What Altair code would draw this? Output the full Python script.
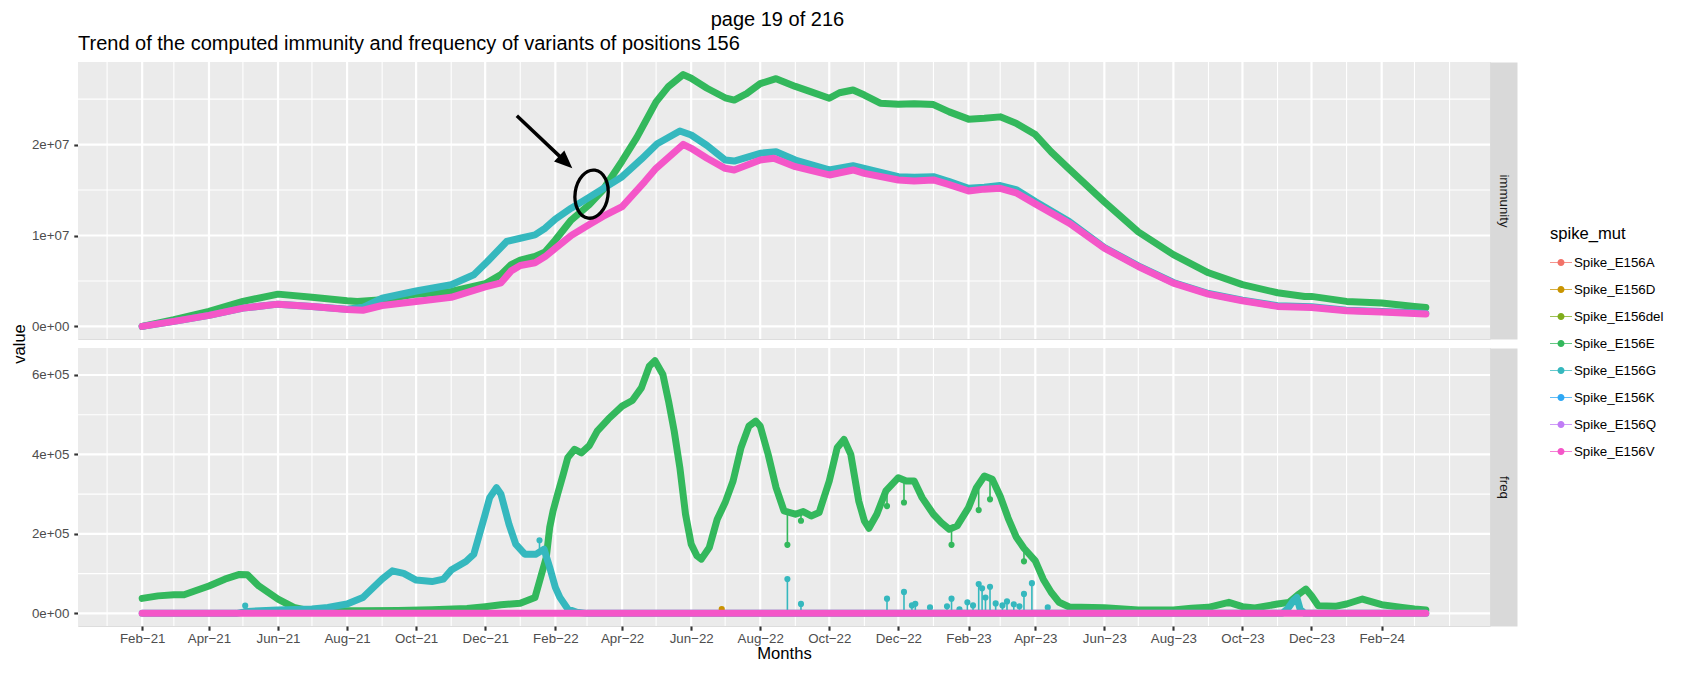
import altair as alt
import pandas as pd

FONT = "Liberation Sans"

# ---------------- categories / colours ----------------
series_names = ["Spike_E156A", "Spike_E156D", "Spike_E156del", "Spike_E156E",
                "Spike_E156G", "Spike_E156K", "Spike_E156Q", "Spike_E156V"]
series_colors = ["#F27268", "#C99400", "#7FAD1C", "#33B85C",
                 "#35B8BE", "#2EA8F5", "#C07CF6", "#F456C8"]
facet_labels = ["immunity", "freq"]
page_title = "page 19 of 216"
plot_title = "Trend of the computed immunity and frequency of variants of positions 156"

# ---------------- immunity panel (values in units of 1e7) ----------------
IMM_UNIT = 1e7
imm_E_dates = ["2021-02-01", "2021-03-01", "2021-04-01", "2021-05-01", "2021-06-01", "2021-07-01",
               "2021-08-01", "2021-08-10", "2021-09-01", "2021-10-01", "2021-11-01", "2021-12-01",
               "2021-12-15", "2021-12-24", "2022-01-01", "2022-01-14", "2022-01-23", "2022-02-01",
               "2022-02-15", "2022-03-03", "2022-03-15", "2022-04-01", "2022-04-14", "2022-05-01",
               "2022-05-12", "2022-05-25", "2022-06-01", "2022-06-15", "2022-07-01", "2022-07-09",
               "2022-07-20", "2022-08-01", "2022-08-15", "2022-09-01", "2022-09-15", "2022-10-01",
               "2022-10-10", "2022-10-22", "2022-11-01", "2022-11-15", "2022-12-01", "2022-12-15",
               "2023-01-01", "2023-01-15", "2023-02-01", "2023-02-15", "2023-03-01", "2023-03-15",
               "2023-04-01", "2023-04-15", "2023-05-01", "2023-06-01", "2023-07-01", "2023-08-01",
               "2023-09-01", "2023-10-01", "2023-11-01", "2023-11-25", "2023-12-01", "2024-01-01",
               "2024-02-01", "2024-03-01", "2024-03-11"]
imm_E_vals = [0.0, 0.073, 0.165, 0.275, 0.355, 0.32,
              0.282, 0.275, 0.293, 0.355, 0.385, 0.47,
              0.57, 0.68, 0.73, 0.77, 0.82, 0.95,
              1.17, 1.34, 1.50, 1.82, 2.08, 2.47,
              2.64, 2.77, 2.73, 2.62, 2.515, 2.49,
              2.56, 2.67, 2.725, 2.64, 2.58, 2.51,
              2.57, 2.60, 2.545, 2.455, 2.445, 2.45,
              2.44, 2.36, 2.28, 2.29, 2.305, 2.235,
              2.11, 1.92, 1.73, 1.37, 1.04, 0.79,
              0.59, 0.46, 0.37, 0.33, 0.33, 0.275,
              0.257, 0.22, 0.209]

imm_G_dates = ["2021-02-01", "2021-03-01", "2021-04-01", "2021-05-01", "2021-06-01", "2021-07-01",
               "2021-08-01", "2021-08-15", "2021-09-01", "2021-10-01", "2021-11-01", "2021-11-21",
               "2021-12-03", "2021-12-20", "2022-01-01", "2022-01-14", "2022-01-23", "2022-02-01",
               "2022-02-15", "2022-03-03", "2022-04-01", "2022-04-18", "2022-05-02", "2022-05-22",
               "2022-06-01", "2022-06-15", "2022-07-01", "2022-07-09", "2022-08-01", "2022-08-15",
               "2022-09-01", "2022-10-01", "2022-10-22", "2022-11-01", "2022-12-01", "2022-12-15",
               "2023-01-01", "2023-01-15", "2023-02-01", "2023-02-15", "2023-03-01", "2023-03-15",
               "2023-04-01", "2023-05-01", "2023-06-01", "2023-07-01", "2023-08-01", "2023-09-01",
               "2023-10-01", "2023-11-01", "2023-12-01", "2024-01-01", "2024-02-01", "2024-03-01",
               "2024-03-11"]
imm_G_vals = [0.0, 0.055, 0.121, 0.201, 0.245, 0.22,
              0.19, 0.21, 0.31, 0.39, 0.458, 0.568,
              0.714, 0.934, 0.97, 1.007, 1.08, 1.18,
              1.30, 1.42, 1.647, 1.84, 2.01, 2.149,
              2.105, 1.99, 1.83, 1.819, 1.904, 1.922,
              1.83, 1.721, 1.768, 1.739, 1.647, 1.64,
              1.647, 1.593, 1.519, 1.53, 1.549, 1.505,
              1.373, 1.153, 0.868, 0.666, 0.483, 0.362,
              0.289, 0.227, 0.216, 0.179, 0.165, 0.15,
              0.143]

imm_V_dates = ["2021-02-01", "2021-03-01", "2021-04-01", "2021-05-01", "2021-06-01", "2021-07-01",
               "2021-08-01", "2021-08-15", "2021-09-01", "2021-10-01", "2021-11-01", "2021-12-01",
               "2021-12-15", "2021-12-24", "2022-01-01", "2022-01-14", "2022-01-23", "2022-02-01",
               "2022-02-15", "2022-03-03", "2022-03-15", "2022-04-01", "2022-04-21", "2022-05-01",
               "2022-05-25", "2022-06-01", "2022-06-15", "2022-07-01", "2022-07-09", "2022-08-01",
               "2022-08-13", "2022-09-01", "2022-10-01", "2022-10-22", "2022-11-01", "2022-12-01",
               "2022-12-15", "2023-01-01", "2023-01-15", "2023-02-01", "2023-02-15", "2023-03-01",
               "2023-03-15", "2023-04-01", "2023-05-01", "2023-06-01", "2023-07-01", "2023-08-01",
               "2023-09-01", "2023-10-01", "2023-11-01", "2023-12-01", "2024-01-01", "2024-02-01",
               "2024-03-01", "2024-03-11"]
imm_V_vals = [0.0, 0.055, 0.121, 0.201, 0.245, 0.22,
              0.185, 0.178, 0.23, 0.275, 0.32, 0.435,
              0.48, 0.611, 0.67, 0.70, 0.768, 0.86,
              1.0, 1.12, 1.21, 1.318, 1.593, 1.739,
              2.003, 1.959, 1.85, 1.739, 1.721, 1.83,
              1.849, 1.757, 1.666, 1.721, 1.684, 1.611,
              1.60, 1.611, 1.56, 1.49, 1.51, 1.519,
              1.47, 1.348, 1.135, 0.861, 0.659, 0.476,
              0.355, 0.282, 0.220, 0.209, 0.172, 0.158,
              0.143, 0.136]

# ---------------- freq panel (values in units of 1e5) ----------------
FREQ_UNIT = 1e5
freq_E_dates = ["2021-02-01", "2021-02-15", "2021-03-01", "2021-03-10", "2021-03-20", "2021-04-01",
                "2021-04-15", "2021-04-28", "2021-05-05", "2021-05-15", "2021-06-01", "2021-06-15",
                "2021-06-25", "2021-07-15", "2021-08-15", "2021-09-15", "2021-10-15", "2021-11-15",
                "2021-12-01", "2021-12-15", "2022-01-01", "2022-01-14", "2022-01-19", "2022-01-24",
                "2022-01-27", "2022-01-30", "2022-02-03", "2022-02-08", "2022-02-12", "2022-02-18",
                "2022-02-24", "2022-03-03", "2022-03-10", "2022-03-20", "2022-04-01", "2022-04-10",
                "2022-04-18", "2022-04-25", "2022-04-30", "2022-05-07", "2022-05-12", "2022-05-17",
                "2022-05-22", "2022-05-27", "2022-06-01", "2022-06-06", "2022-06-10", "2022-06-17",
                "2022-06-24", "2022-07-01", "2022-07-08", "2022-07-15", "2022-07-22", "2022-07-28",
                "2022-08-01", "2022-08-08", "2022-08-15", "2022-08-22", "2022-09-01", "2022-09-08",
                "2022-09-15", "2022-09-22", "2022-10-01", "2022-10-08", "2022-10-14", "2022-10-20",
                "2022-10-27", "2022-11-01", "2022-11-05", "2022-11-12", "2022-11-20", "2022-12-01",
                "2022-12-08", "2022-12-15", "2022-12-22", "2023-01-01", "2023-01-08", "2023-01-15",
                "2023-01-22", "2023-02-01", "2023-02-08", "2023-02-15", "2023-02-22", "2023-03-01",
                "2023-03-08", "2023-03-15", "2023-03-22", "2023-04-01", "2023-04-08", "2023-04-15",
                "2023-04-22", "2023-05-01", "2023-06-01", "2023-07-01", "2023-08-01", "2023-08-17",
                "2023-09-01", "2023-09-19", "2023-10-01", "2023-10-12", "2023-11-01", "2023-11-11",
                "2023-11-20", "2023-11-26", "2023-12-01", "2023-12-07", "2023-12-22", "2024-01-01",
                "2024-01-15", "2024-02-01", "2024-02-19", "2024-03-01", "2024-03-11"]
freq_E_vals = [0.377, 0.44, 0.47, 0.47, 0.57, 0.69,
               0.86, 0.98, 0.97, 0.69, 0.36, 0.15,
               0.085, 0.068, 0.068, 0.07, 0.09, 0.12,
               0.168, 0.218, 0.252, 0.40, 0.905, 1.41,
               2.16, 2.58, 3.0, 3.5, 3.92, 4.13,
               4.04, 4.22, 4.587, 4.897, 5.215, 5.357,
               5.675, 6.219, 6.361, 6.01, 5.34, 4.587,
               3.667, 2.495, 1.742, 1.449, 1.365, 1.658,
               2.369, 2.788, 3.332, 4.168, 4.713, 4.838,
               4.713, 4.001, 3.164, 2.578, 2.495, 2.562,
               2.453, 2.537, 3.332, 4.168, 4.378, 4.001,
               2.83, 2.327, 2.143, 2.495, 3.081, 3.415,
               3.332, 3.332, 2.913, 2.495, 2.285, 2.118,
               2.202, 2.662, 3.164, 3.457, 3.374, 2.95,
               2.4, 1.93, 1.64, 1.32, 0.86, 0.53,
               0.28, 0.16, 0.14, 0.085, 0.085, 0.126,
               0.151, 0.277, 0.168, 0.135, 0.235, 0.277,
               0.486, 0.612, 0.444, 0.193, 0.177, 0.235,
               0.361, 0.218, 0.151, 0.11, 0.085]

freq_G_dates = ["2021-02-01", "2021-04-25", "2021-05-05", "2021-06-01", "2021-07-01", "2021-07-15",
                "2021-08-01", "2021-08-15", "2021-09-01", "2021-09-10", "2021-09-20", "2021-10-01",
                "2021-10-15", "2021-10-25", "2021-11-01", "2021-11-14", "2021-11-21", "2021-11-26",
                "2021-12-01", "2021-12-05", "2021-12-11", "2021-12-15", "2021-12-22", "2021-12-28",
                "2022-01-05", "2022-01-15", "2022-01-22", "2022-01-27", "2022-02-01", "2022-02-05",
                "2022-02-12", "2022-02-20", "2022-03-01", "2023-11-05", "2023-11-10", "2023-11-15",
                "2023-11-18", "2023-11-21", "2023-11-25", "2024-03-11"]
freq_G_vals = [0.0, 0.0, 0.05, 0.085, 0.11, 0.15,
               0.235, 0.40, 0.863, 1.07, 1.005, 0.838,
               0.80, 0.86, 1.089, 1.306, 1.49, 1.99,
               2.495, 2.913, 3.164, 2.997, 2.244, 1.742,
               1.491, 1.491, 1.616, 1.16, 0.654, 0.403,
               0.11, 0.026, 0.0, 0.0, 0.12, 0.32,
               0.40, 0.10, 0.0, 0.0]

freq_V_dates = ["2021-02-01", "2022-02-01", "2023-02-01", "2024-03-11"]
freq_V_vals = [0.0, 0.0, 0.0, 0.0]

# single-day spikes of Spike_E156G (from base to tip)
g_spike_dates = ["2021-05-03", "2022-01-18", "2022-08-25", "2022-09-06", "2022-11-21", "2022-12-06",
                 "2022-12-13", "2022-12-16", "2022-12-29", "2023-01-13", "2023-01-17", "2023-01-24",
                 "2023-01-31", "2023-02-05", "2023-02-10", "2023-02-13", "2023-02-16", "2023-02-20",
                 "2023-02-25", "2023-03-03", "2023-03-07", "2023-03-13", "2023-03-18", "2023-03-22",
                 "2023-03-29", "2023-04-12"]
g_spike_base = [0.0, 1.50, 0.0, 0.0, 0.0, 0.0,
                0.0, 0.0, 0.0, 0.0, 0.0, 0.0,
                0.0, 0.0, 0.0, 0.0, 0.0, 0.0,
                0.0, 0.0, 0.0, 0.0, 0.0, 0.0,
                0.0, 0.0]
g_spike_tip = [0.193, 1.84, 0.863, 0.237, 0.37, 0.54,
               0.20, 0.24, 0.15, 0.18, 0.37, 0.10,
               0.28, 0.20, 0.74, 0.63, 0.40, 0.67,
               0.25, 0.20, 0.30, 0.23, 0.18, 0.49,
               0.76, 0.15]

# single-day dips of Spike_E156E (from curve down to tip)
e_spike_dates = ["2022-08-25", "2022-09-06", "2022-11-21", "2022-12-06", "2023-01-17", "2023-02-10",
                 "2023-02-20", "2023-03-22"]
e_spike_base = [2.54, 2.55, 3.10, 3.33, 2.12, 3.25, 3.40, 1.64]
e_spike_tip = [1.725, 2.33, 2.70, 2.79, 1.725, 2.60, 2.87, 1.31]

# lone Spike_E156D point
d_point_dates = ["2022-06-28"]
d_point_vals = [0.11]

# ---------------- annotation (arrow + ellipse, data coordinates) ----------------
ellipse_date = ["2022-03-05"]
ellipse_val = [1.455]
arrow_start_date = ["2021-12-29"]
arrow_start_val = [2.317]
arrow_end_date = ["2022-02-10"]
arrow_end_val = [1.81]
arrow_tip_date = ["2022-02-16"]
arrow_tip_val = [1.739]

# ---------------- axis ticks ----------------
x_major_dates = ["2021-02-01", "2021-04-01", "2021-06-01", "2021-08-01", "2021-10-01", "2021-12-01",
                 "2022-02-01", "2022-04-01", "2022-06-01", "2022-08-01", "2022-10-01", "2022-12-01",
                 "2023-02-01", "2023-04-01", "2023-06-01", "2023-08-01", "2023-10-01", "2023-12-01",
                 "2024-02-01"]
x_major_labels = ["Feb−21", "Apr−21", "Jun−21", "Aug−21", "Oct−21", "Dec−21",
                  "Feb−22", "Apr−22", "Jun−22", "Aug−22", "Oct−22", "Dec−22",
                  "Feb−23", "Apr−23", "Jun−23", "Aug−23", "Oct−23", "Dec−23",
                  "Feb−24"]
x_minor_dates = ["2021-01-01", "2021-03-01", "2021-05-01", "2021-07-01", "2021-09-01", "2021-11-01",
                 "2022-01-01", "2022-03-01", "2022-05-01", "2022-07-01", "2022-09-01", "2022-11-01",
                 "2023-01-01", "2023-03-01", "2023-05-01", "2023-07-01", "2023-09-01", "2023-11-01",
                 "2024-01-01", "2024-03-01", "2024-04-01"]
y_top_major = [0, 10000000, 20000000]
y_top_labels = ["0e+00", "1e+07", "2e+07"]
y_top_minor = [5000000, 15000000, 25000000]
y_bot_major = [0, 200000, 400000, 600000]
y_bot_labels = ["0e+00", "2e+05", "4e+05", "6e+05"]
y_bot_minor = [100000, 300000, 500000]


# ---------------- helpers ----------------
def to_ms(s):
    return int(pd.Timestamp(s, tz="UTC").value // 10**6)


def table(dates, vals, name, unit):
    return pd.DataFrame({"date": dates, "value": [v * unit for v in vals], "spike_mut": name})


imm_E = table(imm_E_dates, imm_E_vals, "Spike_E156E", IMM_UNIT)
imm_G = table(imm_G_dates, imm_G_vals, "Spike_E156G", IMM_UNIT)
imm_V = table(imm_V_dates, imm_V_vals, "Spike_E156V", IMM_UNIT)
freq_E = table(freq_E_dates, freq_E_vals, "Spike_E156E", FREQ_UNIT)
freq_G = table(freq_G_dates, freq_G_vals, "Spike_E156G", FREQ_UNIT)
freq_V = table(freq_V_dates, freq_V_vals, "Spike_E156V", FREQ_UNIT)

g_spikes = pd.DataFrame({"date": g_spike_dates,
                         "base": [v * FREQ_UNIT for v in g_spike_base],
                         "value": [v * FREQ_UNIT for v in g_spike_tip],
                         "spike_mut": "Spike_E156G"})
e_spikes = pd.DataFrame({"date": e_spike_dates,
                         "base": [v * FREQ_UNIT for v in e_spike_base],
                         "value": [v * FREQ_UNIT for v in e_spike_tip],
                         "spike_mut": "Spike_E156E"})
d_points = pd.DataFrame({"date": d_point_dates, "base": [0.0] * len(d_point_dates),
                         "value": [v * FREQ_UNIT for v in d_point_vals], "spike_mut": "Spike_E156D"})

ellipse_df = pd.DataFrame({"date": ellipse_date, "value": [v * IMM_UNIT for v in ellipse_val]})
arrow_df = pd.DataFrame({"date": arrow_start_date, "date2": arrow_end_date,
                         "value": [v * IMM_UNIT for v in arrow_start_val],
                         "value2": [v * IMM_UNIT for v in arrow_end_val]})
tip_df = pd.DataFrame({"date": arrow_tip_date, "value": [v * IMM_UNIT for v in arrow_tip_val]})

# ggplot-like 5% expansion of the data ranges
all_dates = pd.to_datetime(pd.concat([imm_E.date, imm_G.date, imm_V.date, freq_E.date]), utc=True)
d0, d1 = all_dates.min(), all_dates.max()
span = d1 - d0
x_domain = [int((d0 - 0.05 * span).value // 10**6), int((d1 + 0.05 * span).value // 10**6)]

imm_max = max(pd.concat([imm_E.value, imm_G.value, imm_V.value]))
freq_max = max(pd.concat([freq_E.value, freq_G.value, g_spikes.value]))
y_top_domain = [-0.05 * imm_max, 1.05 * imm_max]
y_bot_domain = [-0.05 * freq_max, 1.05 * freq_max]

x_scale = alt.Scale(type="utc", domain=x_domain, nice=False)
y_top_scale = alt.Scale(domain=y_top_domain, nice=False, zero=False)
y_bot_scale = alt.Scale(domain=y_bot_domain, nice=False, zero=False)
color_scale = alt.Scale(domain=series_names, range=series_colors)

x_major_ms = [to_ms(d) for d in x_major_dates]
x_label_expr = (f"indexof({x_major_ms}, time(datum.value)) >= 0 ? "
                f"{x_major_labels}[indexof({x_major_ms}, time(datum.value))] : ''")

MAJOR_W = 2.2
MINOR_W = 1.1
GRID = "#FFFFFF"
PANEL_BG = "#EBEBEB"
TICK_C = "#333333"
LABEL_C = "#4D4D4D"
TOP_H = 277
BOT_H = 278
PANEL_W = 1412
STRIP_W = 27

x_axis_top = alt.Axis(values=x_major_ms, labels=False, ticks=False, domain=False,
                      grid=False, title=None)
x_axis_bot = alt.Axis(values=x_major_ms, labelExpr=x_label_expr, labelFlush=False,
                      labelOverlap=False, labelColor=LABEL_C, labelFontSize=13.3, labelFont=FONT,
                      labelPadding=1, domain=False, grid=False,
                      ticks=True, tickColor=TICK_C, tickWidth=2.1,
                      tickSize=4.2, title="Months",
                      titleFontSize=16.6, titleFont=FONT, titleFontWeight="normal",
                      titleColor="#000000", titlePadding=1)


def y_axis(major, labels, with_title):
    expr = f"indexof({major}, datum.value) >= 0 ? {labels}[indexof({major}, datum.value)] : ''"
    kw = dict(values=major, labelExpr=expr, labelOverlap=False, labelFlush=False,
              labelColor=LABEL_C, labelFontSize=13.3, labelFont=FONT, labelPadding=5,
              domain=False, grid=False,
              ticks=True, tickColor=TICK_C, tickWidth=2.1, tickSize=4.2)
    if with_title:
        kw.update(title="value", titleFontSize=16.6, titleFont=FONT, titleFontWeight="normal",
                  titleColor="#000000", titleAngle=270, titleX=-58.7, titleY=TOP_H + 4.5,
                  titleAlign="center", titleBaseline="middle")
    else:
        kw.update(title=None)
    return alt.Axis(**kw)


def strip_axis(label, h):
    # facet strip drawn as a wide grey axis line on the right of the panel
    return alt.Axis(orient="right", labels=False, ticks=False, grid=False, domain=True,
                    domainColor="#D9D9D9", domainWidth=STRIP_W, domainCap="butt",
                    offset=STRIP_W / 2, title=label, titleAngle=90, titleFontSize=13.3,
                    titleFont=FONT, titleFontWeight="normal", titleColor="#1A1A1A",
                    titleX=0, titleY=h / 2, titleAlign="center", titleBaseline="middle")


y_axis_top = y_axis(y_top_major, y_top_labels, True)
y_axis_bot = y_axis(y_bot_major, y_bot_labels, False)

LINE_W = 7

legend = alt.Legend(
    title="spike_mut", orient="none", legendX=1472, legendY=164, padding=0,
    titleFontSize=16.6, titleFont=FONT, titleFontWeight="normal", titleColor="#000000",
    titlePadding=9, labelFontSize=13.3, labelFont=FONT, labelColor="#000000", labelOffset=2,
    symbolType="M-1,-0.035L1,-0.035L1,0.035L-1,0.035Z M-0.32,0A0.32,0.32 0 1,1 0.32,0A0.32,0.32 0 1,1 -0.32,0Z",
    symbolSize=484, symbolStrokeWidth=0, rowPadding=9,
)
color_enc = alt.Color("spike_mut:N", scale=color_scale, legend=legend)


def background_layers(label, xa, ys, ya, y_major, y_minor):
    """ggplot-style grey panel with thin minor and thicker major white grid lines."""
    out = [alt.Chart(pd.DataFrame({"panel": [label]})).mark_rect(
        color=PANEL_BG, opacity=1).encode(detail="panel:N")]
    for dates, w in ((x_minor_dates, MINOR_W), (x_major_dates, MAJOR_W)):
        out.append(alt.Chart(pd.DataFrame({"date": dates})).mark_rule(
            stroke=GRID, strokeWidth=w, opacity=1).encode(x=alt.X("date:T", scale=x_scale, axis=xa)))
    for vals, w in ((y_minor, MINOR_W), (y_major, MAJOR_W)):
        out.append(alt.Chart(pd.DataFrame({"value": vals})).mark_rule(
            stroke=GRID, strokeWidth=w, opacity=1).encode(y=alt.Y("value:Q", scale=ys, axis=ya)))
    return out


def line_layer(df, xa, ys, ya):
    return alt.Chart(df).mark_line(strokeWidth=LINE_W, strokeCap="round", strokeJoin="round").encode(
        x=alt.X("date:T", scale=x_scale, axis=xa),
        y=alt.Y("value:Q", scale=ys, axis=ya),
        color=color_enc,
    )


def spike_layers(df, xa, ys, ya):
    rule = alt.Chart(df).mark_rule(strokeWidth=1.6).encode(
        x=alt.X("date:T", scale=x_scale, axis=xa),
        y=alt.Y("value:Q", scale=ys, axis=ya),
        y2="base:Q",
        color=color_enc,
    )
    pts = alt.Chart(df).mark_point(filled=True, size=38, opacity=1).encode(
        x=alt.X("date:T", scale=x_scale, axis=xa),
        y=alt.Y("value:Q", scale=ys, axis=ya),
        color=color_enc,
    )
    return [rule, pts]


def strip_layer(df, ys, label, h, xa):
    return alt.Chart(df).mark_point(opacity=0, size=0).encode(
        x=alt.X("date:T", scale=x_scale, axis=xa),
        y=alt.Y("value:Q", scale=ys, axis=strip_axis(label, h)),
    )


# invisible filled points first, so that the shared legend uses filled symbols
legend_anchor = alt.Chart(imm_E).mark_point(filled=True, size=0, opacity=1).encode(
    x=alt.X("date:T", scale=x_scale, axis=x_axis_top),
    y=alt.Y("value:Q", scale=y_top_scale, axis=y_axis_top),
    color=color_enc,
)

# ---------------- immunity panel ----------------
ellipse = alt.Chart(ellipse_df).mark_point(
    shape="M-0.68,0A0.68,1 0 1,1 0.68,0A0.68,1 0 1,1 -0.68,0Z",
    size=2343, filled=False, stroke="#000000", strokeWidth=3.3, opacity=1, angle=8,
).encode(x=alt.X("date:T", scale=x_scale, axis=x_axis_top),
         y=alt.Y("value:Q", scale=y_top_scale, axis=y_axis_top))
arrow = alt.Chart(arrow_df).mark_rule(strokeWidth=3.5, color="#000000").encode(
    x=alt.X("date:T", scale=x_scale, axis=x_axis_top), x2="date2:T",
    y=alt.Y("value:Q", scale=y_top_scale, axis=y_axis_top), y2="value2:Q")
head = alt.Chart(tip_df).mark_point(
    shape="M0,0L-1,-0.42L-1,0.42Z", size=1296, filled=True, color="#000000",
    opacity=1, angle=43, strokeWidth=0,
).encode(x=alt.X("date:T", scale=x_scale, axis=x_axis_top),
         y=alt.Y("value:Q", scale=y_top_scale, axis=y_axis_top))

top_inner = alt.layer(
    *background_layers(facet_labels[0], x_axis_top, y_top_scale, y_axis_top, y_top_major, y_top_minor),
    legend_anchor,
    line_layer(imm_E, x_axis_top, y_top_scale, y_axis_top),
    line_layer(imm_G, x_axis_top, y_top_scale, y_axis_top),
    line_layer(imm_V, x_axis_top, y_top_scale, y_axis_top),
    ellipse, arrow, head,
)
top_panel = alt.layer(
    top_inner, strip_layer(imm_V, y_top_scale, facet_labels[0], TOP_H, x_axis_top)
).resolve_axis(y="independent").properties(
    width=PANEL_W, height=TOP_H,
    title=alt.TitleParams(plot_title, anchor="start", frame="group", fontSize=20, font=FONT,
                          fontWeight="normal", color="#000000", offset=7),
)

# ---------------- freq panel ----------------
bot_inner = alt.layer(
    *background_layers(facet_labels[1], x_axis_bot, y_bot_scale, y_axis_bot, y_bot_major, y_bot_minor),
    line_layer(freq_E, x_axis_bot, y_bot_scale, y_axis_bot),
    *spike_layers(e_spikes, x_axis_bot, y_bot_scale, y_axis_bot),
    line_layer(freq_G, x_axis_bot, y_bot_scale, y_axis_bot),
    *spike_layers(g_spikes, x_axis_bot, y_bot_scale, y_axis_bot),
    *spike_layers(d_points, x_axis_bot, y_bot_scale, y_axis_bot),
    line_layer(freq_V, x_axis_bot, y_bot_scale, y_axis_bot),
)
bottom_panel = alt.layer(
    bot_inner, strip_layer(freq_V, y_bot_scale, facet_labels[1], BOT_H, x_axis_bot)
).resolve_axis(y="independent").properties(width=PANEL_W, height=BOT_H)

chart = alt.vconcat(top_panel, bottom_panel, spacing=9, bounds="flush").properties(
    title=alt.TitleParams(page_title, anchor="middle", fontSize=20, font=FONT,
                          fontWeight="normal", color="#000000", offset=3, dx=-60),
    padding={"left": 2, "right": 2, "top": 2, "bottom": 0},
).configure_view(fill=PANEL_BG, stroke="transparent").configure(background="#FFFFFF")

chart.save("out.html", embed_options={"renderer": "svg", "actions": False})
